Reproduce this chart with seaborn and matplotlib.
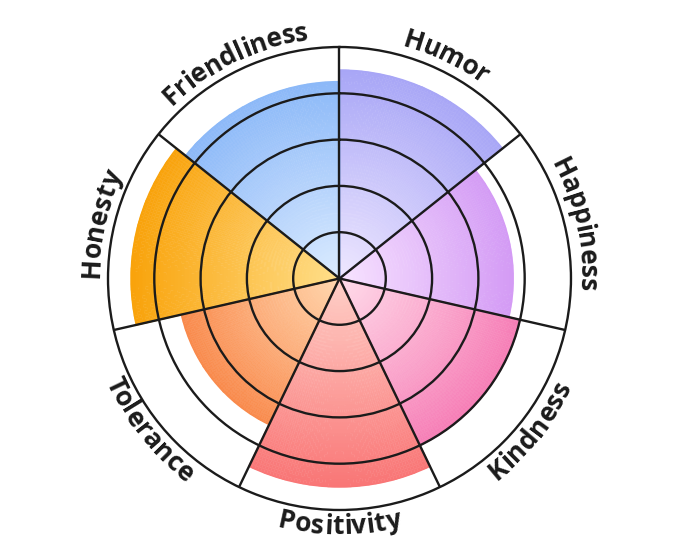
import numpy as np
import matplotlib.pyplot as plt
import seaborn as sns
from matplotlib.font_manager import FontProperties
from matplotlib.textpath import TextToPath

# clockwise from 12 o'clock
categories = ["Humor", "Happiness", "Kindness", "Positivity",
              "Tolerance", "Honesty", "Friendliness"]
scores = [4.5, 3.75, 4.0, 4.5, 3.5, 4.5, 4.25]
outer_colors = ["#a8a6f6", "#d49bf5", "#f67db6", "#f97676",
                "#f98a4c", "#f9a30b", "#8cb9f8"]
inner_colors = ["#efe8ff", "#f8e4ff", "#ffdcea", "#ffd0c8",
                "#ffd8b0", "#ffe08c", "#dcecff"]
grid_levels = [1, 2, 3, 4]
max_score = 5

sns.set_theme(style="white")
plt.rcParams["font.family"] = ["Open Sans", "DejaVu Sans"]

DPI = 100
LINE = "#1b1b1b"
LABEL_SIZE = 19
LABEL_R = 5.36

fig = plt.figure(figsize=(6.8, 5.57), dpi=DPI)
ax = fig.add_axes([0.1588, 0.0844, 0.6809, 0.8312], projection="polar")
ax.set_theta_zero_location("N")
ax.set_theta_direction(-1)

n = len(categories)
width = 2 * np.pi / n
mids = (np.arange(n) + 0.5) * width

# radial gradient wedges
for i, score in enumerate(scores):
    cmap = sns.blend_palette([inner_colors[i], outer_colors[i]], as_cmap=True)
    theta = np.linspace(i * width, (i + 1) * width, 60)
    r = np.linspace(0, score, 60)
    T, R = np.meshgrid(theta, r)
    C = (R[:-1, :-1] + R[1:, 1:]) / 2 / score
    ax.pcolormesh(T, R, C, cmap=cmap, vmin=0, vmax=1, shading="flat",
                  edgecolors="face", linewidth=0.3, antialiased=True,
                  zorder=1)

# smooth the outer rim of each wedge
ax.bar(mids, scores, width=width, bottom=0, color="none",
       edgecolor=outer_colors, linewidth=1.2, zorder=1.5)

ax.set_ylim(0, max_score)
ax.set_xticks(np.arange(n) * width)
ax.set_xticklabels([])
ax.set_yticks(grid_levels)
ax.set_yticklabels([])
ax.tick_params(length=0)
ax.grid(True, color=LINE, linewidth=1.7, linestyle="-")
ax.set_axisbelow(False)
ax.spines["polar"].set_color(LINE)
ax.spines["polar"].set_linewidth(1.7)

# curved labels, one glyph at a time
fp = FontProperties(family="Open Sans", weight="bold", size=LABEL_SIZE)
ttp = TextToPath()


def w_px(s):
    if not s:
        return 0.0
    return ttp.get_text_width_height_descent(s, fp, ismath=False)[0] * DPI / 72


px_per_unit = 0.6809 * 6.8 * DPI / (2 * max_score)
r_px = LABEL_R * px_per_unit

for i, cat in enumerate(categories):
    mid = mids[i]
    total = w_px(cat)
    upper = not (np.pi / 2 < mid < 3 * np.pi / 2)
    for k, ch in enumerate(cat):
        c = w_px(cat[:k + 1]) - w_px(ch) / 2 - total / 2
        dphi = c / r_px
        phi = mid + dphi if upper else mid - dphi
        deg = np.degrees(phi)
        rot = -deg if upper else 180 - deg
        ax.text(phi, LABEL_R, ch, fontproperties=fp, color=LINE,
                ha="center", va="center", rotation=rot,
                rotation_mode="anchor", clip_on=False)

fig.savefig("out.png", dpi=DPI)
plt.close(fig)
